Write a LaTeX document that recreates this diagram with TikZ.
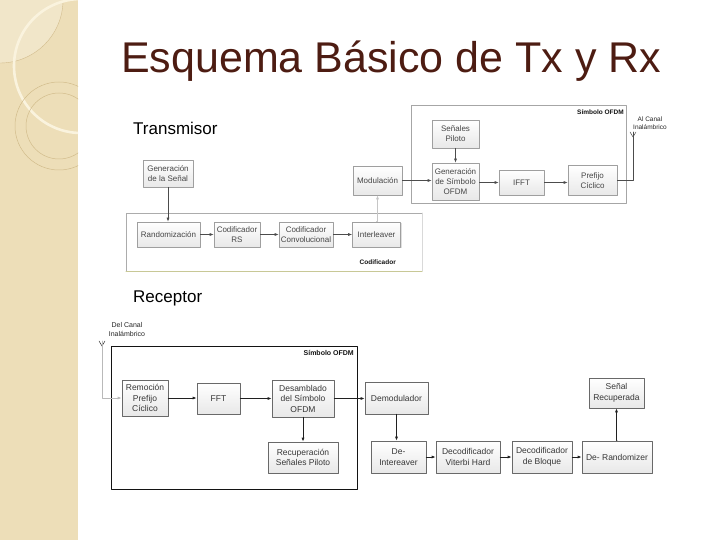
\documentclass[tikz,border=0pt]{standalone}
\usepackage{fontspec}
\setmainfont{Liberation Sans}
\usetikzlibrary{arrows.meta,shadows}
\definecolor{titlebrown}{RGB}{77,28,18}
\definecolor{stripbeige}{RGB}{237,222,184}
\definecolor{stripline}{RGB}{210,188,140}
\definecolor{stripcream}{RGB}{250,243,222}
\definecolor{boxline}{RGB}{105,105,105}
\definecolor{boxtext}{RGB}{55,55,55}
\definecolor{codbar}{RGB}{200,200,150}
\begin{document}
\begin{tikzpicture}[x=1pt,y=-1pt,line cap=round,line join=round,
 >={Latex[length=4pt,width=3pt]},
 sz/.style 2 args={minimum width=#1pt,minimum height=#2pt},
 blk/.style={draw=boxline,line width=.6pt,top color=white,bottom color=gray!18,
  align=center,inner sep=1pt,text=boxtext,font=\fontsize{8.5}{10.5}\selectfont,
  drop shadow={shadow xshift=1pt,shadow yshift=-1pt,opacity=.25}},
 txblk/.style={blk,draw=gray!75,text=gray!20!boxtext,font=\fontsize{8}{10}\selectfont},
 arr/.style={->,draw=gray!25!black,line width=.8pt},
 txarr/.style={->,draw=gray!60!black,line width=.6pt},
 tag/.style={font=\bfseries\fontsize{6.5}{7.5}\selectfont,text=gray!15!black,inner sep=1pt},
 small/.style={font=\fontsize{6.5}{8}\selectfont,text=gray!30!black,align=center,inner sep=0pt}]
 \useasboundingbox (0,0) rectangle (720,540);
 % left strip
 \fill[stripbeige] (0,0) rectangle (78,540);
 \begin{scope}
  \clip (0,0) rectangle (78,540);
  \fill[white,opacity=.25] (0,0) circle[radius=63];
  \draw[stripline,line width=.4pt] (0,0) circle[radius=63];
  \draw[stripcream,line width=2.6pt] (81,66) circle[radius=67];
  \foreach \r in {33,44}
   \draw[stripline,line width=.5pt] (59,126) circle[radius=\r];
 \end{scope}
 % title
 \node[anchor=base west,inner sep=0pt,text=titlebrown,font=\fontsize{43}{50}\selectfont]
  (title) at (121,73) {Esquema Básico de Tx y Rx};
 \node[anchor=base west,inner sep=0pt,font=\fontsize{17}{20}\selectfont] (txlabel) at (133,135) {Transmisor};
 \node[anchor=base west,inner sep=0pt,font=\fontsize{17}{20}\selectfont] (rxlabel) at (133,302) {Receptor};

 % transmisor
 \draw[gray!65,line width=.7pt] (126,271)--(126,213)--(422,213);
 \draw[gray!30,line width=.6pt] (422,213)--(422,271);
 \draw[codbar,line width=1pt] (126,271)--(422,271);
 \draw[gray!70,line width=.8pt] (411,105) rectangle (626,203);
 \node[tag,anchor=east] (codtag) at (397,262) {Codificador};
 \node[tag,anchor=east] (txsimtag) at (625,112) {Símbolo OFDM};

 \node[txblk,sz={50}{27}] (gensen) at (168,173.5) {Generación\\de la Señal};
 \node[txblk,sz={63}{25}] (rand) at (168.5,234.5) {Randomización};
 \node[txblk,sz={46}{25}] (rs) at (237,234.5) {Codificador\\RS};
 \node[txblk,sz={54}{25}] (conv) at (306,234.5) {Codificador\\Convolucional};
 \node[txblk,sz={48}{25}] (inter) at (376.5,234.5) {Interleaver};
 \node[txblk,sz={49}{29}] (modul) at (377.5,180.5) {Modulación};
 \node[txblk,sz={47}{28}] (piloto) at (455.5,134) {Señales\\Piloto};
 \node[txblk,sz={47}{37}] (gensim) at (455.5,181.5) {Generación\\de Símbolo\\OFDM};
 \node[txblk,sz={45}{25}] (ifft) at (521.5,182.5) {IFFT};
 \node[txblk,sz={49}{30}] (prefijo) at (592.5,180.5) {Prefijo\\Cíclico};

 \coordinate (anttx) at (633,132);
 \node[small] (altx) at (650,123) {Al Canal\\Inalámbrico};

 \draw[txarr] (gensen.south) -- (gensen.south |- rand.north);
 \draw[txarr] (rand) -- (rs);
 \draw[txarr] (rs) -- (conv);
 \draw[txarr] (conv) -- (inter);
 \draw[txarr,draw=gray!45] (inter.north) -- (inter.north -| modul.south) -- (modul.south);
 \draw[txarr] (modul) -- (modul -| gensim.west);
 \draw[txarr] (piloto) -- (gensim);
 \draw[txarr] (gensim.east |- ifft) -- (ifft);
 \draw[txarr] (ifft) -- (ifft -| prefijo.west);
 \draw[gray!60!black,line width=.6pt] (prefijo.east) -| (anttx);
 \draw[gray!60!black,line width=.5pt] (anttx) ++(-3,0) -- ++(3,5) -- ++(3,-5);

 % receptor
 \draw[gray!15!black,line width=.8pt] (111,346) rectangle (357,489);
 \node[tag,anchor=east,font=\bfseries\fontsize{7}{8}\selectfont] (rxsimtag) at (355,352.5) {Símbolo OFDM};

 \node[blk,sz={46}{36}] (remo) at (145,398) {Remoción\\Prefijo\\Cíclico};
 \node[blk,sz={43}{31}] (fft) at (218.5,398.5) {FFT};
 \node[blk,sz={62}{37}] (desam) at (303,398.5) {Desamblado\\del Símbolo\\OFDM};
 \node[blk,sz={70}{31}] (recup) at (303,457.5) {Recuperación\\Señales Piloto};
 \node[blk,sz={63}{32}] (demod) at (396.5,398) {Demodulador};
 \node[blk,sz={55}{32}] (deint) at (398.5,457) {De-\\Intereaver};
 \node[blk,sz={64}{32}] (viterbi) at (468,457) {Decodificador\\Viterbi Hard};
 \node[blk,sz={60}{32}] (bloque) at (542,457) {Decodificador\\de Bloque};
 \node[blk,sz={70}{32}] (derand) at (617,457) {De- Randomizer};
 \node[blk,sz={55}{30}] (senrec) at (616.5,393) {Señal\\Recuperada};

 \coordinate (antrx) at (102,341);
 \node[small,font=\fontsize{7}{9}\selectfont] (delrx) at (127,329) {Del Canal\\Inalámbrico};

 \draw[gray!25!black,line width=.5pt] (antrx) ++(-3,0) -- ++(3,5) -- ++(3,-5);
 \draw[arr,draw=gray!55] (antrx) |- (remo.west);
 \draw[arr] (remo) -- (remo -| fft.west);
 \draw[arr] (fft) -- (fft -| desam.west);
 \draw[arr] (desam) -- (desam -| demod.west);
 \draw[arr] (desam) -- (recup);
 \draw[arr] (demod.south) -- (demod.south |- deint.north);
 \draw[arr] (deint) -- (viterbi);
 \draw[arr] (viterbi) -- (bloque);
 \draw[arr] (bloque) -- (derand);
 \draw[arr] (derand.north) -- (derand.north -| senrec.south) -- (senrec.south);
\end{tikzpicture}
\end{document}
